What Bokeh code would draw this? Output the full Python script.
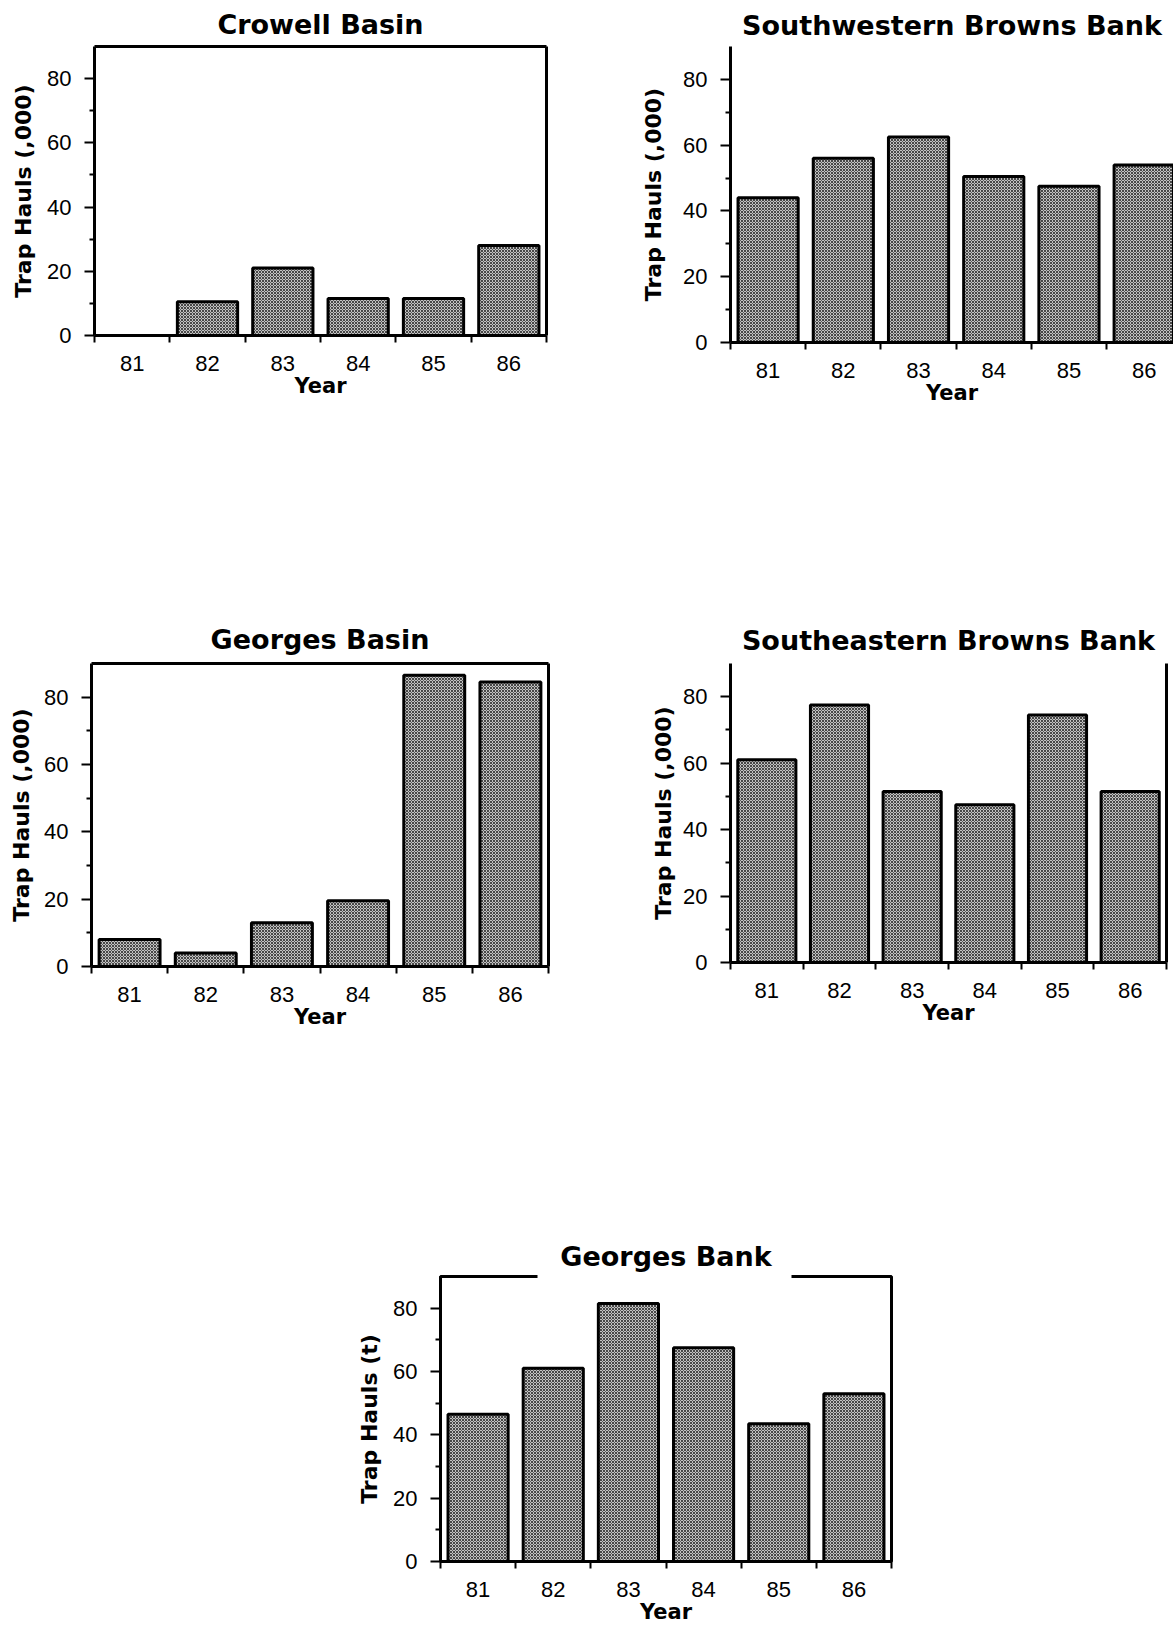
from bokeh.plotting import figure
from bokeh.models import ColumnDataSource, FixedTicker, LinearAxis, Range1d, Spacer
from bokeh.layouts import row, column
from bokeh.embed import file_html
from bokeh.resources import INLINE

years = ["81", "82", "83", "84", "85", "86"]
crowell_basin = [0, 10.5, 21, 11.5, 11.5, 28]
sw_browns_bank = [44, 56, 62.5, 50.5, 47.5, 54]
georges_basin = [8, 4, 13, 19.5, 86.5, 84.5]
se_browns_bank = [61, 77.5, 51.5, 47.5, 74.5, 51.5]
georges_bank = [46.5, 61, 81.5, 67.5, 43.5, 53]
y_major = [0, 20, 40, 60, 80]
y_minor = [10, 30, 50, 70]
Y_MAX = 90

BOLD_FONT = "DejaVu Sans"
TICK_FONT = "Liberation Sans"


def border_axis():
    return LinearAxis(ticker=FixedTicker(ticks=[]), major_label_text_font_size="0px",
                      axis_line_width=3, axis_line_color="black",
                      major_tick_line_color=None, minor_tick_line_color=None)


def make_panel(title, values, ylabel, frame_w, frame_h, left, right, top, bottom,
               x_end, right_line, top_line, ylab_standoff, title_standoff=14,
               gap_outline=None):
    n = len(years)
    p = figure(frame_width=frame_w, frame_height=frame_h,
               x_range=Range1d(-0.5, x_end), y_range=Range1d(0, Y_MAX),
               output_backend="svg", toolbar_location=None,
               min_border_left=left, min_border_right=right,
               min_border_top=top, min_border_bottom=bottom,
               background_fill_color="white", border_fill_color="white")
    p.xgrid.visible = False
    p.ygrid.visible = False
    if gap_outline:
        p.outline_line_color = "black"
        p.outline_line_width = 3
        p.outline_line_alpha = 1.0
        p.outline_line_dash = gap_outline
    else:
        p.outline_line_color = None

    p.title.text = title
    p.title.align = "center"
    p.title.text_font = BOLD_FONT
    p.title.text_font_style = "bold"
    p.title.text_font_size = "27px"
    p.title.text_color = "black"
    p.title.standoff = title_standoff

    xs = list(range(n))
    src = ColumnDataSource(dict(x=xs, top=values))
    p.vbar(x="x", top="top", bottom=0, width=0.8, source=src,
           fill_color="#c2c2c2", line_color="black", line_width=3,
           hatch_pattern="diagonal_cross", hatch_color="#474747",
           hatch_scale=3, hatch_weight=1)

    # x axis
    xa = p.xaxis[0]
    xa.ticker = FixedTicker(ticks=xs, minor_ticks=[i - 0.5 for i in range(n + 1)])
    xa.major_label_overrides = {i: years[i] for i in xs}
    xa.major_tick_out = 0
    xa.major_tick_in = 0
    xa.minor_tick_out = 7
    xa.minor_tick_in = 0
    xa.minor_tick_line_width = 2
    xa.minor_tick_line_color = "black"
    xa.axis_line_width = 3
    xa.axis_line_color = "black"
    xa.major_label_text_font = TICK_FONT
    xa.major_label_text_font_size = "22px"
    xa.major_label_text_color = "black"
    xa.major_label_standoff = 13
    xa.axis_label = "Year"
    xa.axis_label_text_font = BOLD_FONT
    xa.axis_label_text_font_style = "bold"
    xa.axis_label_text_font_size = "21px"
    xa.axis_label_text_color = "black"
    xa.axis_label_standoff = 0

    # y axis
    ya = p.yaxis[0]
    ya.ticker = FixedTicker(ticks=y_major, minor_ticks=y_minor)
    ya.major_tick_out = 10
    ya.major_tick_in = 0
    ya.minor_tick_out = 5
    ya.minor_tick_in = 0
    ya.major_tick_line_width = 2
    ya.minor_tick_line_width = 2
    ya.axis_line_width = 3
    ya.axis_line_color = "black"
    ya.major_label_text_font = TICK_FONT
    ya.major_label_text_font_size = "22px"
    ya.major_label_text_color = "black"
    ya.major_label_standoff = 13
    ya.axis_label = ylabel
    ya.axis_label_text_font = BOLD_FONT
    ya.axis_label_text_font_style = "bold"
    ya.axis_label_text_font_size = "22px"
    ya.axis_label_text_color = "black"
    ya.axis_label_standoff = ylab_standoff

    if right_line:
        p.add_layout(border_axis(), "right")
    if top_line:
        p.add_layout(border_axis(), "above")
    return p


p1 = make_panel("Crowell Basin", crowell_basin, "Trap Hauls (,000)",
                452, 289, 94, 74, 45, 80, 5.5, True, True, 8, title_standoff=13)
p2 = make_panel("Southwestern Browns Bank", sw_browns_bank, "Trap Hauls (,000)",
                443, 296, 110, 0, 44, 74, 5.39, False, False, 14, title_standoff=12)
p3 = make_panel("Georges Basin", georges_basin, "Trap Hauls (,000)",
                457, 303, 91, 72, 61, 96, 5.5, True, True, 7, title_standoff=17)
p4 = make_panel("Southeastern Browns Bank", se_browns_bank, "Trap Hauls (,000)",
                436, 299, 110, 7, 64, 97, 5.5, True, False, 4, title_standoff=15)
# Georges Bank: frame outline with a gap in the top edge behind the title
p5 = make_panel("Georges Bank", georges_bank, "Trap Hauls (t)",
                451, 285, 102, 20, 77, 65, 5.5, False, False, 8,
                title_standoff=9, gap_outline="97 254 2000")

layout = column(
    row(p1, p2),
    Spacer(width=1173, height=184),
    row(p3, p4),
    Spacer(width=1173, height=140),
    row(Spacer(width=338, height=427), p5),
)

open("out.html", "w").write(file_html(layout, INLINE))
